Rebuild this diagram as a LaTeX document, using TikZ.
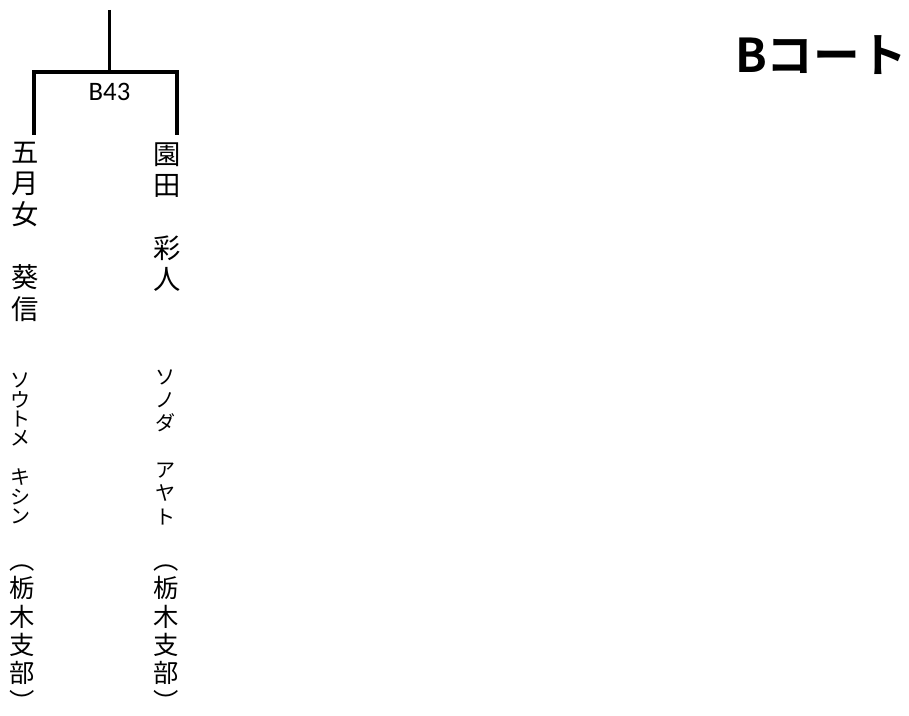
\documentclass[tikz,border=0pt]{standalone}
\usepackage{fontspec}
\setmainfont{Carlito}
\newfontfamily\jpfont[BoldFont={Noto Sans CJK JP Bold}]{Noto Sans CJK JP}
\usepackage{tikz}
\usetikzlibrary{positioning}

\begin{document}
\begin{tikzpicture}[x=0.75pt, y=-0.75pt,
    bracket/.style={line width=3pt, line join=miter},
    stem/.style={line width=2.25pt},
    matchlabel/.style={font=\fontsize{20}{20}\selectfont, inner sep=0pt},
    namebox/.style={font=\jpfont\fontsize{20.5}{23.55}\selectfont,
      align=center, inner sep=0pt},
    kanabox/.style={font=\jpfont\fontsize{15}{#1}\selectfont,
      align=center, inner sep=0pt},
    branchbox/.style={font=\jpfont\fontsize{19}{21.3}\selectfont,
      align=center, inner sep=0pt},
    court/.style={font=\jpfont\bfseries\fontsize{35}{40}\selectfont,
      inner sep=0pt},
]
\useasboundingbox (0,0) rectangle (909,716);
% Nodes
\node[court] (court) at (821,55) {Bコート};
\node[matchlabel] (b43) at (109.5,91.5) {B43};
\node[namebox] (satome) at (25,231.5) {五\\月\\女\\　\\葵\\信};
\node[kanabox=14.55pt] (satomekana) at (20,448.5)
    {ソ\\ウ\\ト\\メ\\　\\キ\\シ\\ン};
\node[branchbox] (satomebranch) at (22,638) {︵\\栃\\木\\支\\部\\︶};
\node[namebox] (sonoda) at (167,217) {園\\田\\　\\彩\\人};
\node[kanabox=17.5pt] (sonodakana) at (165,447)
    {ソ\\ノ\\ダ\\　\\ア\\ヤ\\ト};
\node[branchbox] (sonodabranch) at (166,638) {︵\\栃\\木\\支\\部\\︶};
% Bracket
\coordinate (top) at (109,10);
\coordinate (m43) at (109,72);
\coordinate (lend) at (34,135);
\coordinate (rend) at (177,135);
\draw[stem] (top) -- (m43);
\draw[bracket] (lend) |- (m43) -| (rend);
\end{tikzpicture}
\end{document}
